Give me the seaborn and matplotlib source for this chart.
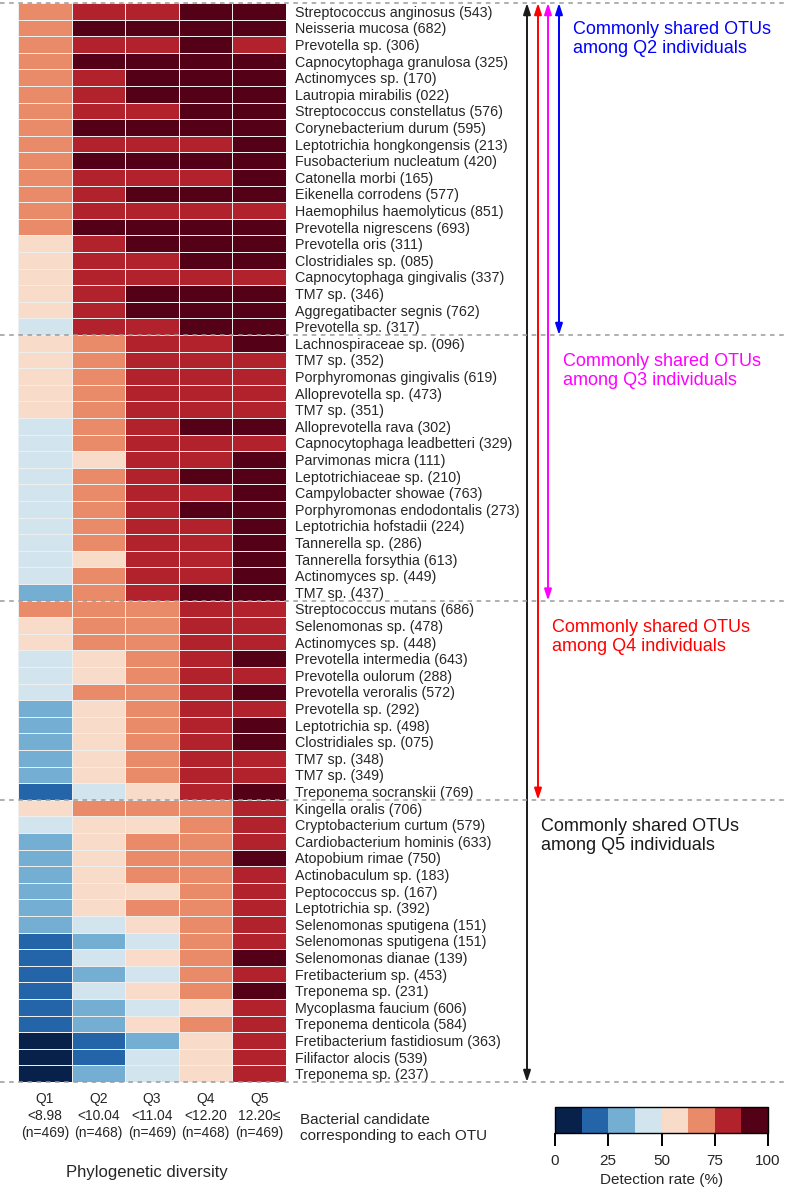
import numpy as np
import pandas as pd
import matplotlib
matplotlib.use('Agg')
import matplotlib.pyplot as plt
from matplotlib.colors import ListedColormap
import seaborn as sns

# bacterial candidate for each OTU (top to bottom)
otus = [
    'Streptococcus anginosus (543)', 'Neisseria mucosa (682)', 'Prevotella sp. (306)',
    'Capnocytophaga granulosa (325)', 'Actinomyces sp. (170)', 'Lautropia mirabilis (022)',
    'Streptococcus constellatus (576)', 'Corynebacterium durum (595)',
    'Leptotrichia hongkongensis (213)', 'Fusobacterium nucleatum (420)', 'Catonella morbi (165)',
    'Eikenella corrodens (577)', 'Haemophilus haemolyticus (851)', 'Prevotella nigrescens (693)',
    'Prevotella oris (311)', 'Clostridiales sp. (085)', 'Capnocytophaga gingivalis (337)',
    'TM7 sp. (346)', 'Aggregatibacter segnis (762)', 'Prevotella sp. (317)',
    'Lachnospiraceae sp. (096)', 'TM7 sp. (352)', 'Porphyromonas gingivalis (619)',
    'Alloprevotella sp. (473)', 'TM7 sp. (351)', 'Alloprevotella rava (302)',
    'Capnocytophaga leadbetteri (329)', 'Parvimonas micra (111)', 'Leptotrichiaceae sp. (210)',
    'Campylobacter showae (763)', 'Porphyromonas endodontalis (273)', 'Leptotrichia hofstadii (224)',
    'Tannerella sp. (286)', 'Tannerella forsythia (613)', 'Actinomyces sp. (449)', 'TM7 sp. (437)',
    'Streptococcus mutans (686)', 'Selenomonas sp. (478)', 'Actinomyces sp. (448)',
    'Prevotella intermedia (643)', 'Prevotella oulorum (288)', 'Prevotella veroralis (572)',
    'Prevotella sp. (292)', 'Leptotrichia sp. (498)', 'Clostridiales sp. (075)',
    'TM7 sp. (348)', 'TM7 sp. (349)', 'Treponema socranskii (769)',
    'Kingella oralis (706)', 'Cryptobacterium curtum (579)', 'Cardiobacterium hominis (633)',
    'Atopobium rimae (750)', 'Actinobaculum sp. (183)', 'Peptococcus sp. (167)',
    'Leptotrichia sp. (392)', 'Selenomonas sputigena (151)', 'Selenomonas sputigena (151)',
    'Selenomonas dianae (139)', 'Fretibacterium sp. (453)', 'Treponema sp. (231)',
    'Mycoplasma faucium (606)', 'Treponema denticola (584)', 'Fretibacterium fastidiosum (363)',
    'Filifactor alocis (539)', 'Treponema sp. (237)',
]

quintiles = ['Q1\n<8.98\n(n=469)', 'Q2\n<10.04\n(n=468)', 'Q3\n<11.04\n(n=469)',
             'Q4\n<12.20\n(n=468)', 'Q5\n12.20≤\n(n=469)']

# detection rate (%) per quintile, estimated from the colour bins
q1 = [69, 69, 69, 69, 69, 69, 69, 69, 69, 69, 69, 69, 69, 69, 56, 56, 56, 56, 56, 44,
      56, 56, 56, 56, 56, 44, 44, 44, 44, 44, 44, 44, 44, 44, 44, 31,
      69, 56, 56, 44, 44, 44, 31, 31, 31, 31, 31, 19,
      56, 44, 31, 31, 31, 31, 31, 31, 19, 19, 19, 19, 19, 19, 8, 8, 8]
q2 = [81, 94, 81, 94, 81, 81, 81, 94, 81, 94, 81, 81, 81, 94, 81, 81, 81, 81, 81, 81,
      69, 69, 69, 69, 69, 69, 69, 56, 69, 69, 69, 69, 69, 56, 69, 69,
      69, 69, 69, 56, 56, 69, 56, 56, 56, 56, 56, 44,
      69, 56, 56, 56, 56, 56, 56, 44, 31, 44, 31, 44, 31, 31, 19, 19, 31]
q3 = [81, 94, 81, 94, 94, 94, 81, 94, 81, 94, 81, 94, 81, 94, 94, 81, 81, 94, 94, 81,
      81, 81, 81, 81, 81, 81, 81, 81, 81, 81, 81, 81, 81, 81, 81, 81,
      69, 69, 69, 69, 69, 69, 69, 69, 69, 69, 69, 56,
      69, 56, 69, 69, 69, 56, 69, 56, 44, 56, 44, 56, 44, 56, 31, 44, 44]
q4 = [94, 94, 94, 94, 94, 94, 94, 94, 81, 94, 81, 94, 81, 94, 94, 94, 81, 94, 94, 94,
      81, 81, 81, 81, 81, 94, 81, 81, 94, 81, 94, 81, 81, 81, 81, 94,
      81, 81, 81, 81, 81, 81, 81, 81, 81, 81, 81, 81,
      69, 69, 69, 69, 69, 69, 69, 69, 69, 69, 69, 69, 56, 69, 56, 56, 56]
q5 = [94, 94, 81, 94, 94, 94, 94, 94, 94, 94, 94, 94, 81, 94, 94, 94, 81, 94, 94, 94,
      94, 81, 81, 81, 81, 94, 81, 94, 94, 94, 94, 94, 94, 94, 94, 94,
      81, 81, 81, 94, 81, 94, 81, 94, 94, 81, 81, 94,
      81, 81, 81, 94, 81, 81, 81, 81, 81, 94, 81, 94, 81, 81, 81, 81, 81]

# group boundaries (row index) and annotations
group_breaks = [0, 20, 36, 48, 65]
group_labels = ['Q2', 'Q3', 'Q4', 'Q5']
group_colors = ['#0000ff', '#ff00ff', '#ff0000', '#1a1a1a']

palette = ['#08214a', '#2464a8', '#74aed3', '#d2e5ef', '#f9dbca', '#e98a69', '#b2222d', '#540016']

sns.set_theme(style='white')
plt.rcParams['font.family'] = ['Liberation Sans', 'DejaVu Sans']

W, H = 787, 1191
fig = plt.figure(figsize=(W / 100, H / 100), dpi=100)
ax = fig.add_axes([18 / W, 1 - 1082 / H, 268 / W, 1079 / H])
cax = fig.add_axes([555 / W, 1 - 1133 / H, 213 / W, 26 / H])

df = pd.DataFrame({'Q1': q1, 'Q2': q2, 'Q3': q3, 'Q4': q4, 'Q5': q5}, index=otus)

sns.heatmap(df, ax=ax, cmap=ListedColormap(palette), vmin=0, vmax=100,
            linewidths=0.6, linecolor='#eeeeee',
            xticklabels=quintiles, yticklabels=otus,
            cbar_ax=cax, cbar_kws={'orientation': 'horizontal', 'ticks': [0, 25, 50, 75, 100]})

ax.yaxis.tick_right()
ax.tick_params(axis='y', length=0, pad=6.5, labelsize=10.3, labelrotation=0)
ax.tick_params(axis='x', length=0, pad=7, labelsize=10, labelrotation=0)
for t in ax.get_yticklabels():
    t.set_ha('left')
for t in ax.get_xticklabels():
    t.set_linespacing(1.3)
ax.set_xlabel('')
ax.set_ylabel('')

# dashed separators across the whole figure
x0 = -18 / 268
x1 = (W - 18) / 268
for b in group_breaks:
    ax.axhline(b, xmin=x0, xmax=x1, color='#9a9a9a', lw=1.1, ls=(0, (3, 3)), clip_on=False, zorder=5)

# arrows spanning from the top to the end of each group
arrow_px = [559, 548, 538, 527]
for b, c, px in zip(group_breaks[1:], group_colors, arrow_px):
    xd = (px - 18) / 268 * 5
    ax.annotate('', xy=(xd, b), xytext=(xd, 0), annotation_clip=False,
                arrowprops=dict(arrowstyle='<|-|>,head_length=0.55,head_width=0.18',
                                color=c, lw=1.4, shrinkA=0, shrinkB=0))

text_pos = [(573, 39), (563, 371), (552, 637), (541, 836)]
for lab, c, (px, py) in zip(group_labels, group_colors, text_pos):
    fig.text(px / W, 1 - py / H, f'Commonly shared OTUs\namong {lab} individuals',
             color=c, fontsize=13, ha='left', va='center', linespacing=1.15)

fig.text(300 / W, 1 - 1128 / H, 'Bacterial candidate\ncorresponding to each OTU',
         fontsize=11, ha='left', va='center', linespacing=1.2)
fig.text(147 / W, 1 - 1173 / H, 'Phylogenetic diversity', fontsize=12, ha='center', va='center')

cbar = ax.collections[0].colorbar
cbar.outline.set_visible(True)
cbar.outline.set_edgecolor('black')
cbar.outline.set_linewidth(1.0)
cbar.ax.xaxis.set_ticks_position('bottom')
cbar.ax.xaxis.set_tick_params(which='major', bottom=True, direction='out', length=9,
                              width=1.4, color='black', labelsize=11, pad=6)
cbar.ax.minorticks_off()
cbar.ax.set_xlabel('Detection rate (%)', fontsize=11, labelpad=4)

fig.savefig('out.png', dpi=100)
